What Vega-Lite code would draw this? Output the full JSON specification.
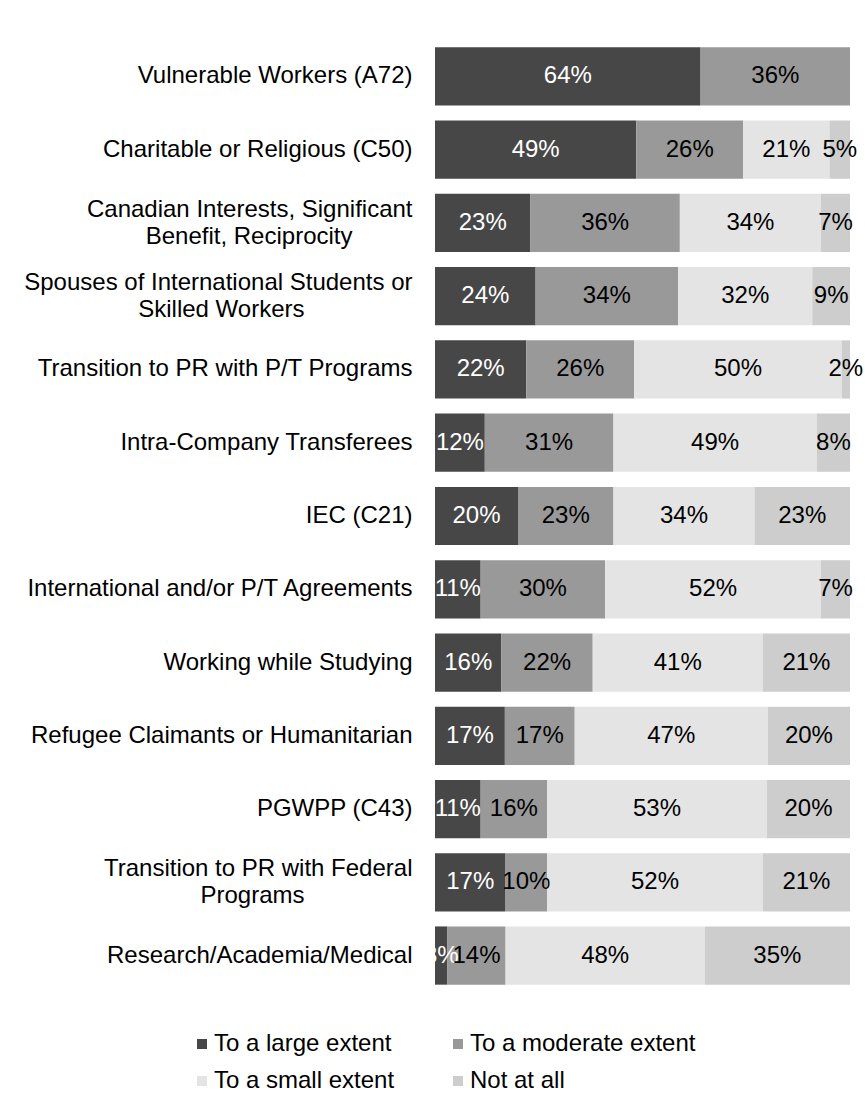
{
  "$schema": "https://vega.github.io/schema/vega-lite/v6.json",
  "autosize": {"type": "none"},
  "padding": {"left": 435, "top": 40, "right": 15, "bottom": 119},
  "width": 415,
  "height": 952,
  "background": "white",
  "config": {
    "font": "Liberation Sans",
    "view": {"stroke": null}
  },
  "data": {
    "values": [
      {"cat": "Vulnerable Workers (A72)", "answer": "To a large extent", "value": 0.64},
      {"cat": "Vulnerable Workers (A72)", "answer": "To a moderate extent", "value": 0.36},
      {"cat": "Vulnerable Workers (A72)", "answer": "To a small extent", "value": 0},
      {"cat": "Vulnerable Workers (A72)", "answer": "Not at all", "value": 0},
      {"cat": "Charitable or Religious (C50)", "answer": "To a large extent", "value": 0.49},
      {"cat": "Charitable or Religious (C50)", "answer": "To a moderate extent", "value": 0.26},
      {"cat": "Charitable or Religious (C50)", "answer": "To a small extent", "value": 0.21},
      {"cat": "Charitable or Religious (C50)", "answer": "Not at all", "value": 0.05},
      {"cat": "Canadian Interests, Significant Benefit, Reciprocity", "answer": "To a large extent", "value": 0.23},
      {"cat": "Canadian Interests, Significant Benefit, Reciprocity", "answer": "To a moderate extent", "value": 0.36},
      {"cat": "Canadian Interests, Significant Benefit, Reciprocity", "answer": "To a small extent", "value": 0.34},
      {"cat": "Canadian Interests, Significant Benefit, Reciprocity", "answer": "Not at all", "value": 0.07},
      {"cat": "Spouses of International Students or Skilled Workers", "answer": "To a large extent", "value": 0.24},
      {"cat": "Spouses of International Students or Skilled Workers", "answer": "To a moderate extent", "value": 0.34},
      {"cat": "Spouses of International Students or Skilled Workers", "answer": "To a small extent", "value": 0.32},
      {"cat": "Spouses of International Students or Skilled Workers", "answer": "Not at all", "value": 0.09},
      {"cat": "Transition to PR with P/T Programs", "answer": "To a large extent", "value": 0.22},
      {"cat": "Transition to PR with P/T Programs", "answer": "To a moderate extent", "value": 0.26},
      {"cat": "Transition to PR with P/T Programs", "answer": "To a small extent", "value": 0.50},
      {"cat": "Transition to PR with P/T Programs", "answer": "Not at all", "value": 0.02},
      {"cat": "Intra-Company Transferees", "answer": "To a large extent", "value": 0.12},
      {"cat": "Intra-Company Transferees", "answer": "To a moderate extent", "value": 0.31},
      {"cat": "Intra-Company Transferees", "answer": "To a small extent", "value": 0.49},
      {"cat": "Intra-Company Transferees", "answer": "Not at all", "value": 0.08},
      {"cat": "IEC (C21)", "answer": "To a large extent", "value": 0.20},
      {"cat": "IEC (C21)", "answer": "To a moderate extent", "value": 0.23},
      {"cat": "IEC (C21)", "answer": "To a small extent", "value": 0.34},
      {"cat": "IEC (C21)", "answer": "Not at all", "value": 0.23},
      {"cat": "International and/or P/T Agreements", "answer": "To a large extent", "value": 0.11},
      {"cat": "International and/or P/T Agreements", "answer": "To a moderate extent", "value": 0.30},
      {"cat": "International and/or P/T Agreements", "answer": "To a small extent", "value": 0.52},
      {"cat": "International and/or P/T Agreements", "answer": "Not at all", "value": 0.07},
      {"cat": "Working while Studying", "answer": "To a large extent", "value": 0.16},
      {"cat": "Working while Studying", "answer": "To a moderate extent", "value": 0.22},
      {"cat": "Working while Studying", "answer": "To a small extent", "value": 0.41},
      {"cat": "Working while Studying", "answer": "Not at all", "value": 0.21},
      {"cat": "Refugee Claimants or Humanitarian", "answer": "To a large extent", "value": 0.17},
      {"cat": "Refugee Claimants or Humanitarian", "answer": "To a moderate extent", "value": 0.17},
      {"cat": "Refugee Claimants or Humanitarian", "answer": "To a small extent", "value": 0.47},
      {"cat": "Refugee Claimants or Humanitarian", "answer": "Not at all", "value": 0.20},
      {"cat": "PGWPP (C43)", "answer": "To a large extent", "value": 0.11},
      {"cat": "PGWPP (C43)", "answer": "To a moderate extent", "value": 0.16},
      {"cat": "PGWPP (C43)", "answer": "To a small extent", "value": 0.53},
      {"cat": "PGWPP (C43)", "answer": "Not at all", "value": 0.20},
      {"cat": "Transition to PR with Federal Programs", "answer": "To a large extent", "value": 0.17},
      {"cat": "Transition to PR with Federal Programs", "answer": "To a moderate extent", "value": 0.10},
      {"cat": "Transition to PR with Federal Programs", "answer": "To a small extent", "value": 0.52},
      {"cat": "Transition to PR with Federal Programs", "answer": "Not at all", "value": 0.21},
      {"cat": "Research/Academia/Medical", "answer": "To a large extent", "value": 0.03},
      {"cat": "Research/Academia/Medical", "answer": "To a moderate extent", "value": 0.14},
      {"cat": "Research/Academia/Medical", "answer": "To a small extent", "value": 0.48},
      {"cat": "Research/Academia/Medical", "answer": "Not at all", "value": 0.35}
    ]
  },
  "transform": [
    {"calculate": "indexof(['To a large extent','To a moderate extent','To a small extent','Not at all'], datum.answer)", "as": "ord"}
  ],
  "encoding": {
    "y": {
      "field": "cat",
      "type": "nominal",
      "sort": null,
      "scale": {"paddingInner": 0.205, "paddingOuter": 0.1},
      "axis": {
        "title": null,
        "domain": false,
        "ticks": false,
        "labelPadding": 23,
        "labelFontSize": 24,
        "labelColor": "#000000",
        "labelLimit": 500,
        "labelLineHeight": 27,
        "labelOffset": {
          "condition": {"test": "indexof(['Canadian Interests, Significant Benefit, Reciprocity','Spouses of International Students or Skilled Workers','Transition to PR with Federal Programs'], datum.value) >= 0", "value": -13},
          "value": 0
        },
        "labelExpr": "datum.value == 'Canadian Interests, Significant Benefit, Reciprocity' ? ['Canadian Interests, Significant', 'Benefit, Reciprocity\u2002\u2002\u2002\u2002\u2002\u2060'] : datum.value == 'Spouses of International Students or Skilled Workers' ? ['Spouses of International Students or', 'Skilled Workers\u2002\u2002\u2002\u2002\u2002\u2002\u2002\u2002\u2002\u2060'] : datum.value == 'Transition to PR with Federal Programs' ? ['Transition to PR with Federal', 'Programs\u2002\u2002\u2002\u2002\u2002\u2002\u2002\u2002\u2002\u2060'] : datum.value"
      }
    }
  },
  "layer": [
    {
      "mark": {"type": "bar"},
      "encoding": {
        "x": {
          "field": "value",
          "type": "quantitative",
          "stack": "normalize",
          "scale": {"domain": [0, 1], "nice": false},
          "axis": null
        },
        "order": {"field": "ord", "type": "quantitative"},
        "color": {
          "field": "answer",
          "type": "nominal",
          "scale": {
            "domain": ["To a large extent", "To a moderate extent", "To a small extent", "Not at all"],
            "range": ["#474747", "#999999", "#e4e4e4", "#cdcdcd"]
          },
          "legend": {
            "title": null,
            "orient": "none",
            "legendX": -245,
            "legendY": 992,
            "direction": "horizontal",
            "columns": 2,
            "columnPadding": 51,
            "rowPadding": 13,
            "symbolType": "square",
            "symbolSize": 100,
            "symbolStrokeWidth": 0,
            "labelFontSize": 24,
            "labelColor": "#000000",
            "labelOffset": 0,
            "labelLimit": 400
          }
        }
      }
    },
    {
      "transform": [{"filter": "datum.value > 0"}],
      "mark": {"type": "text", "fontSize": 24, "baseline": "middle", "align": "center"},
      "encoding": {
        "x": {
          "field": "value",
          "type": "quantitative",
          "stack": "normalize",
          "bandPosition": 0.5
        },
        "order": {"field": "ord", "type": "quantitative"},
        "detail": {"field": "answer"},
        "text": {"field": "value", "type": "quantitative", "format": ".0%"},
        "color": {
          "condition": {"test": "datum.answer == 'To a large extent'", "value": "#ffffff"},
          "value": "#000000"
        }
      }
    }
  ]
}
